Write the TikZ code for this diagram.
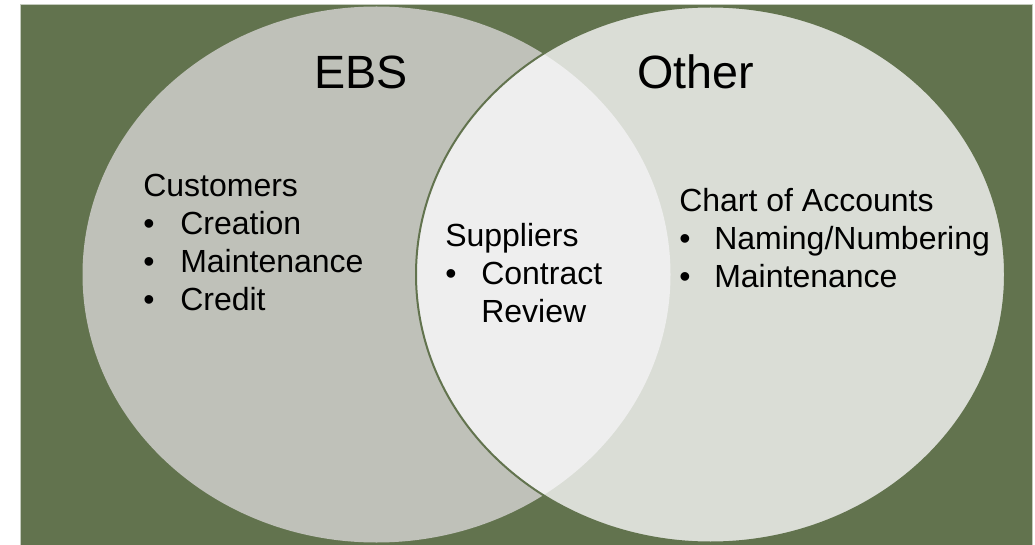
\documentclass[tikz,border=0pt]{standalone}
\usepackage{fontspec}
\setmainfont{Liberation Sans}
\usetikzlibrary{positioning}
\definecolor{bggreen}{HTML}{62734E}
\definecolor{ebsgray}{HTML}{BFC1B9}
\definecolor{othergray}{HTML}{DADDD6}
\definecolor{lensgray}{HTML}{EEEEEE}
\definecolor{rimgray}{HTML}{C4CBBD}

\begin{document}
\begin{tikzpicture}[x=0.75pt,y=-0.75pt]
\tikzset{settitle/.style={font=\fontsize{35}{42}\selectfont,anchor=base,inner sep=0pt}}
\tikzset{setline/.style={font=\fontsize{24}{28}\selectfont,anchor=base west,inner sep=0pt}}
\tikzset{setdot/.style={setline}}
\tikzset{ebsset/.style={fill=ebsgray}}
\tikzset{otherset/.style={fill=othergray}}
\useasboundingbox (0,0) rectangle (1035,545);
\fill[white] (0,0) rectangle (1035,545);
\filldraw[fill=bggreen,draw=rimgray,line width=0.6pt] (20,4) rectangle (1032,545);
\fill[ebsset] (376.5,274.5) ellipse [x radius=294,y radius=268];
\fill[otherset] (710.5,274.5) ellipse [x radius=294.5,y radius=268];
\begin{scope}
\clip (376.5,274.5) ellipse [x radius=294,y radius=268];
\fill[lensgray] (710.5,274.5) ellipse [x radius=294.5,y radius=268];
\end{scope}
\draw[bggreen,line width=1.5pt] (710.5,274.5) ellipse [x radius=294.5,y radius=268];
\node[settitle] (ebs) at (361,88.5) {EBS};
\node[settitle] (other) at (695.5,88.5) {Other};
\node[setline] (cust) at (143,196.5) {Customers};
\node[setdot] (custdotA) at (143,234.5) {\textbullet};
\node[setline] (custA) at (180,234.5) {Creation};
\node[setdot] (custdotB) at (143,272.5) {\textbullet};
\node[setline] (custB) at (180,272.5) {Maintenance};
\node[setdot] (custdotC) at (143,310.5) {\textbullet};
\node[setline] (custC) at (180,310.5) {Credit};
\node[setline] (supp) at (445,246.5) {Suppliers};
\node[setdot] (suppdot) at (445,284.5) {\textbullet};
\node[setline] (suppA) at (481,284.5) {Contract};
\node[setline] (suppB) at (481,322.5) {Review};
\node[setline] (coa) at (679,211.5) {Chart of Accounts};
\node[setdot] (coadotA) at (679,249.5) {\textbullet};
\node[setline] (coaA) at (714,249.5) {Naming/Numbering};
\node[setdot] (coadotB) at (679,287.5) {\textbullet};
\node[setline] (coaB) at (714,287.5) {Maintenance};
\end{tikzpicture}
\end{document}
